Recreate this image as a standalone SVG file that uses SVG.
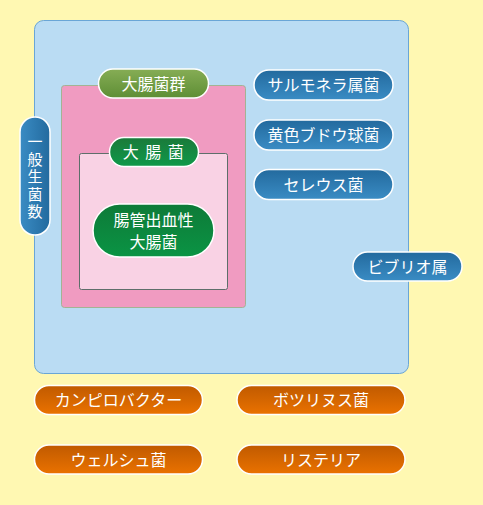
<svg xmlns="http://www.w3.org/2000/svg" width="483" height="505" viewBox="0 0 483 505">
<defs>
<linearGradient id="gBlue" x1="0" y1="0" x2="0" y2="1"><stop offset="0" stop-color="#236a9e"/><stop offset="1" stop-color="#3a8cc4"/></linearGradient>
<linearGradient id="gBlueV" x1="0" y1="0" x2="1" y2="0"><stop offset="0" stop-color="#3a8cc4"/><stop offset="1" stop-color="#236a9e"/></linearGradient>
<linearGradient id="gOrange" x1="0" y1="0" x2="0" y2="1"><stop offset="0" stop-color="#c05a00"/><stop offset="1" stop-color="#ea7200"/></linearGradient>
<linearGradient id="gOlive" x1="0" y1="0" x2="0" y2="1"><stop offset="0" stop-color="#86ad55"/><stop offset="1" stop-color="#5e8e35"/></linearGradient>
<linearGradient id="gGreen" x1="0" y1="0" x2="0" y2="1"><stop offset="0" stop-color="#1a7a3a"/><stop offset="1" stop-color="#10994a"/></linearGradient>
<linearGradient id="gDeep" x1="0" y1="0" x2="0" y2="1"><stop offset="0" stop-color="#0e7a38"/><stop offset="1" stop-color="#0a9444"/></linearGradient>
</defs>
<style>
.t{font-family:"Noto Sans CJK JP","Noto Sans",sans-serif;font-size:16px;fill:#ffffff;text-anchor:middle;}
.pill{stroke:#ffffff;stroke-width:1.5;}
.v{writing-mode:vertical-rl;text-orientation:upright;font-size:15px;letter-spacing:2.5px;}
</style>
<rect x="0" y="0" width="483" height="505" fill="#fff8b2"/>
<g id="outer">
<rect x="34.5" y="20.5" width="374" height="353" rx="9" fill="#badcf3" stroke="#6aa6d6" stroke-width="1"/>
</g>
<g id="coliform-box">
<rect x="61.5" y="85.5" width="184" height="222" rx="3" fill="#f09bc1" stroke="#a3b394" stroke-width="1"/>
</g>
<g id="ecoli-box">
<rect x="79.5" y="153.5" width="148" height="136" rx="2" fill="#f9d2e4" stroke="#5e6e6a" stroke-width="1"/>
</g>
<g id="n-coliform">
<rect class="pill" x="98.5" y="69" width="110" height="29" rx="14.5" fill="url(#gOlive)"/>
<text class="t" x="153.5" y="89.5">大腸菌群</text>
</g>
<g id="n-ecoli">
<rect class="pill" x="109.5" y="137.5" width="89" height="29" rx="14.5" fill="url(#gGreen)"/>
<text class="t" x="154" y="158" letter-spacing="1.5">大 腸 菌</text>
</g>
<g id="n-ehec">
<rect class="pill" x="93" y="204" width="121" height="53" rx="26.5" fill="url(#gDeep)"/>
<text class="t" x="153.5" y="226">腸管出血性</text>
<text class="t" x="153.5" y="248">大腸菌</text>
</g>
<g id="n-general">
<rect class="pill" x="20" y="117" width="30" height="118" rx="15" fill="url(#gBlueV)"/>
<text class="t v" x="35" y="178">一般生菌数</text>
</g>
<g id="n-salmonella">
<rect class="pill" x="254" y="70" width="139" height="30" rx="15" fill="url(#gBlue)"/>
<text class="t" x="323.5" y="91">サルモネラ属菌</text>
</g>
<g id="n-staph">
<rect class="pill" x="254" y="120" width="139" height="30" rx="15" fill="url(#gBlue)"/>
<text class="t" x="323.5" y="141">黄色ブドウ球菌</text>
</g>
<g id="n-cereus">
<rect class="pill" x="254" y="169.5" width="139" height="30" rx="15" fill="url(#gBlue)"/>
<text class="t" x="323.5" y="190.5">セレウス菌</text>
</g>
<g id="n-vibrio">
<rect class="pill" x="353" y="252" width="109" height="29" rx="14.5" fill="url(#gBlue)"/>
<text class="t" x="407.5" y="272.5">ビブリオ属</text>
</g>
<g id="n-campylobacter">
<rect class="pill" x="34.5" y="385.5" width="168" height="29" rx="14.5" fill="url(#gOrange)"/>
<text class="t" x="118.5" y="406">カンピロバクター</text>
</g>
<g id="n-botulinum">
<rect class="pill" x="237" y="385.5" width="168" height="29" rx="14.5" fill="url(#gOrange)"/>
<text class="t" x="321" y="406">ボツリヌス菌</text>
</g>
<g id="n-perfringens">
<rect class="pill" x="34.5" y="445" width="168" height="29" rx="14.5" fill="url(#gOrange)"/>
<text class="t" x="118.5" y="465.5">ウェルシュ菌</text>
</g>
<g id="n-listeria">
<rect class="pill" x="237" y="445" width="168" height="29" rx="14.5" fill="url(#gOrange)"/>
<text class="t" x="321" y="465.5">リステリア</text>
</g>
<g id="connectors"></g>
</svg>
